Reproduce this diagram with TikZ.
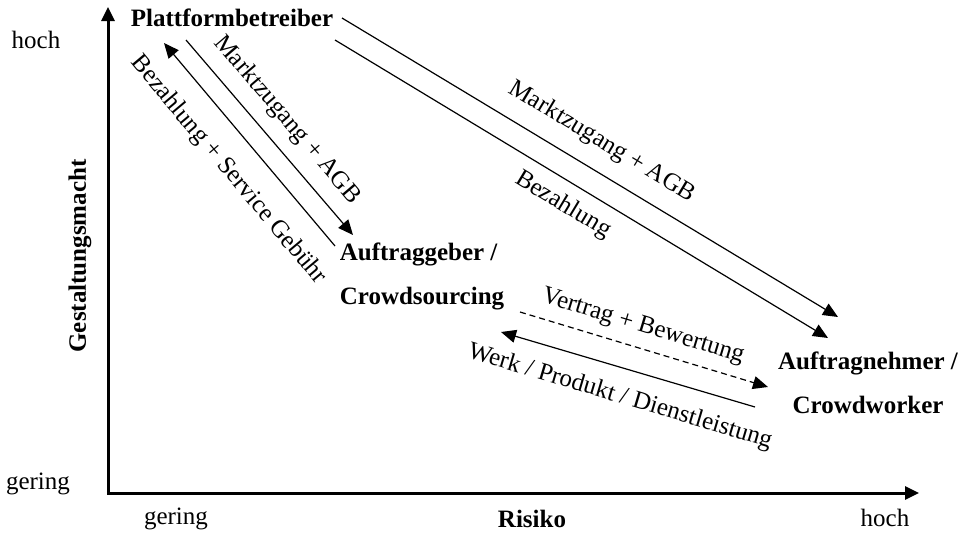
\documentclass[tikz,border=0pt]{standalone}
\usepackage{fontspec}
\setmainfont{Liberation Serif}
\usetikzlibrary{arrows.meta}
\begin{document}
\begin{tikzpicture}[x=1pt,y=-1pt,
  lbl/.style={font=\fontsize{25}{30}\selectfont, inner sep=0pt},
  actor/.style={font=\fontsize{25}{44}\selectfont\bfseries, inner sep=0pt},
  flow/.style={line width=1.2pt, -{Triangle[length=15pt,width=13pt]}},
  dashflow/.style={flow, dash pattern=on 6pt off 4pt},
  axis/.style={line width=3pt, {Triangle[length=14pt,width=13pt]}-{Triangle[length=14pt,width=13pt]}, line join=miter}]
\useasboundingbox (0,0) rectangle (963,533);

% axes
\coordinate (ytop) at (108,7);
\coordinate (orig) at (108,493);
\coordinate (xend) at (919,493);
\draw[axis] (ytop) -- (orig) -- (xend);

\node[lbl] (yh) at (36,40) {hoch};
\node[lbl] (yg) at (38,484) {gering};
\node[lbl] (xg) at (176,519) {gering};
\node[actor] (xr) at (532,519) {Risiko};
\node[lbl] (xh) at (885,518) {hoch};
\node[actor, rotate=90] (ym) at (80,256) {Gestaltungsmacht};

% actors
\node[actor] (pb) at (232,18) {Plattformbetreiber};
\node[actor, align=left] (ag) at (422,276) {Auftraggeber /\\Crowdsourcing};
\node[actor, align=center] (an) at (868,383) {Auftragnehmer /\\Crowdworker};

% connector end points
\coordinate (m1s) at (186,40);  \coordinate (m1e) at (353,235);
\coordinate (b1s) at (335,246); \coordinate (b1e) at (164,43);
\coordinate (m2s) at (342,18);  \coordinate (m2e) at (838,317);
\coordinate (b2s) at (335,40);  \coordinate (b2e) at (828,338);
\coordinate (vs) at (520,312);  \coordinate (ve) at (768,387);
\coordinate (ws) at (755,407);  \coordinate (we) at (501,332);

\draw[flow] (m1s) -- (m1e);
\draw[flow] (b1s) -- (b1e);
\draw[flow] (m2s) -- (m2e);
\draw[flow] (b2s) -- (b2e);
\draw[dashflow] (vs) -- (ve);
\draw[flow] (ws) -- (we);

% labels
\node[lbl, rotate=-49.5] (l1) at (287,120) {Marktzugang + AGB};
\node[lbl, rotate=-50] (l2) at (228,170) {Bezahlung + Service Gebühr};
\node[lbl, rotate=-31.1] (l3) at (602,142) {Marktzugang + AGB};
\node[lbl, rotate=-31.1] (l4) at (563,205) {Bezahlung};
\node[lbl, rotate=-16.8] (l5) at (643,327) {Vertrag + Bewertung};
\node[lbl, rotate=-16.6] (l6) at (620,397) {Werk / Produkt / Dienstleistung};
\end{tikzpicture}
\end{document}
